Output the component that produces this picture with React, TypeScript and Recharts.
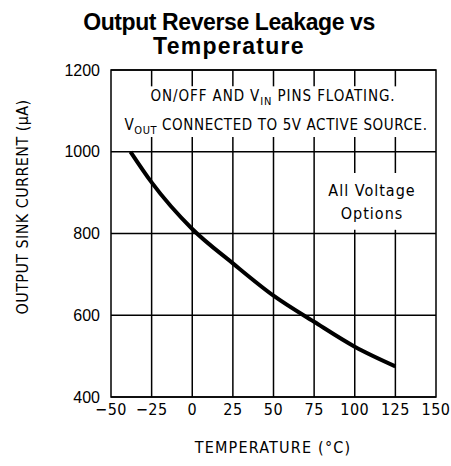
import { LineChart, Line, XAxis, YAxis, CartesianGrid, ReferenceArea, ReferenceLine } from "recharts"

// temperature (°C) vs output sink current (µA)
const temps = [-38, -25, 0, 25, 50, 75, 100, 125]
const current = [1000, 925, 811, 727, 648, 584, 523, 475]

const xTicks = [-50, -25, 0, 25, 50, 75, 100, 125, 150]
const yTicks = [400, 600, 800, 1000, 1200]

const data = temps.map((t, i) => ({ t, i: current[i] }))

const plotFont = "'DejaVu Sans Condensed', 'DejaVu Sans', sans-serif"
const arial = "'Liberation Sans', Arial, sans-serif"

// vertical grid lines are broken where the notes sit
const noteGap: [number, number] = [1036, 1160]
const optionsGap: [number, number] = [809, 948]

function gridPieces(t: number): [number, number][] {
  const gaps = t >= 100 ? [optionsGap, noteGap] : [noteGap]
  const out: [number, number][] = []
  let lo = 400
  for (const [a, b] of gaps) {
    out.push([lo, a])
    lo = b
  }
  out.push([lo, 1200])
  return out
}

export default function App() {
  return (
    <div style={{ position: "absolute", left: 0, top: 0, width: 451, height: 466, background: "#fff" }}>
      <LineChart width={451} height={466} data={data} margin={{ top: 70, right: 15, bottom: 29, left: 51 }}>
        <CartesianGrid stroke="#000" strokeWidth={1.5} vertical={false} />
        <XAxis
          dataKey="t"
          type="number"
          domain={[-50, 150]}
          ticks={xTicks}
          axisLine={false}
          tickLine={false}
          tickMargin={1}
          height={40}
          tickFormatter={(v: number) => String(v).replace("-", "−")}
          tick={{ fill: "#000", fontSize: 16, fontFamily: plotFont, letterSpacing: 0.5 }}
        />
        <YAxis
          type="number"
          domain={[400, 1200]}
          ticks={yTicks}
          axisLine={false}
          tickLine={false}
          tickMargin={5}
          width={60}
          tick={{ fill: "#000", fontSize: 16, fontFamily: arial }}
        />
        {xTicks.slice(1, -1).flatMap((t) =>
          gridPieces(t).map(([a, b]) => (
            <ReferenceLine
              key={`${t}-${a}-${b}`}
              segment={[{ x: t, y: a }, { x: t, y: b }]}
              stroke="#000"
              strokeWidth={1.5}
              ifOverflow="visible"
            />
          ))
        )}
        <ReferenceArea x1={-50} x2={150} y1={400} y2={1200} fill="none" stroke="#000" strokeWidth={1.5} />
        <Line
          type="monotone"
          dataKey="i"
          stroke="#000"
          strokeWidth={4}
          dot={false}
          isAnimationActive={false}
        />
      </LineChart>
      <svg width={451} height={466} style={{ position: "absolute", left: 0, top: 0, pointerEvents: "none" }}>
        <text x={229} y={30} textAnchor="middle" fontFamily={arial} fontWeight="bold" fontSize={23} letterSpacing={-0.4} fill="#000">
          Output Reverse Leakage vs
        </text>
        <text x={229} y={54} textAnchor="middle" fontFamily={arial} fontWeight="bold" fontSize={23} letterSpacing={1.3} fill="#000">
          Temperature
        </text>
        <g fontFamily={plotFont} fontSize={15} fill="#000" letterSpacing={0.6}>
          <text x={273} y={101} textAnchor="middle" letterSpacing={0.9}>
            ON/OFF AND V<tspan fontSize={11} dy={4}>IN</tspan><tspan dy={-4}> PINS FLOATING.</tspan>
          </text>
          <text x={276} y={130} textAnchor="middle">
            V<tspan fontSize={11} dy={4}>OUT</tspan><tspan dy={-4}> CONNECTED TO 5V ACTIVE SOURCE.</tspan>
          </text>
        </g>
        <g fontFamily={plotFont} fontSize={16} fill="#000" letterSpacing={1}>
          <text x={372} y={196} textAnchor="middle">All Voltage</text>
          <text x={372} y={219} textAnchor="middle">Options</text>
        </g>
        <text x={273} y={453} textAnchor="middle" fontFamily={plotFont} fontSize={16} letterSpacing={1.2} fill="#000">
          TEMPERATURE (°C)
        </text>
        <text
          x={22}
          y={207}
          textAnchor="middle"
          dominantBaseline="central"
          transform="rotate(-90 22 207)"
          fontFamily={plotFont}
          fontSize={16}
          letterSpacing={0.4}
          fill="#000"
        >
          OUTPUT SINK CURRENT (µA)
        </text>
      </svg>
    </div>
  )
}
